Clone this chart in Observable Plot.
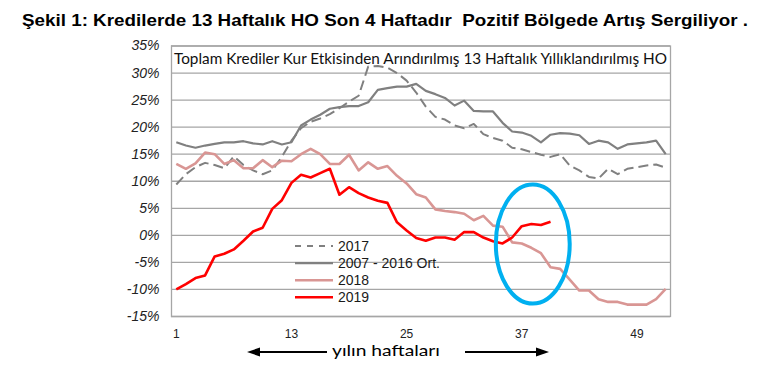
<!DOCTYPE html>
<html><head><meta charset="utf-8">
<script src="https://cdn.jsdelivr.net/npm/d3@7"></script>
<script src="https://cdn.jsdelivr.net/npm/@observablehq/plot@0.6"></script>
<style>
html,body{margin:0;padding:0;background:#fff;}
#wrap{position:relative;width:768px;height:377px;overflow:hidden;font-family:"Liberation Sans",Arial,sans-serif;}
#title{position:absolute;left:0;top:0;}
#chart{position:absolute;left:0;top:38px;}
#caption{position:absolute;left:0;top:336px;}
text.pre{white-space:pre;}
</style></head><body>
<div id="wrap">
<svg id="title" width="768" height="38"><text class="pre" x="22" y="26" text-anchor="start" font-family="Liberation Sans, Arial, sans-serif" font-weight="bold" font-size="17" fill="#000" textLength="726" lengthAdjust="spacingAndGlyphs">Şekil 1: Kredilerde 13 Haftalık HO Son 4 Haftadır  Pozitif Bölgede Artış Sergiliyor .</text></svg>
<div id="chart"></div>
<svg id="caption" width="768" height="41">
  <line x1="256" y1="16" x2="327" y2="16" stroke="#000" stroke-width="2"/>
  <polygon points="247,16 260,11.5 260,20.5" fill="#000"/>
  <text x="332" y="20" text-anchor="start" font-family="Lato, 'Open Sans', sans-serif" font-size="15" fill="#000" textLength="108" lengthAdjust="spacingAndGlyphs">yılın haftaları</text>
  <line x1="465" y1="16" x2="537" y2="16" stroke="#000" stroke-width="2"/>
  <polygon points="549,16 536,11.5 536,20.5" fill="#000"/>
</svg>
</div>
<script>
// ---- data ----
const weeks = [1,2,3,4,5,6,7,8,9,10,11,12,13,14,15,16,17,18,19,20,21,22,23,24,25,26,27,28,29,30,31,32,33,34,35,36,37,38,39,40,41,42,43,44,45,46,47,48,49,50,51,52];
const seriesNames = ["2017", "2007 - 2016 Ort.", "2018", "2019"];
const y2017 = [9.4,11.3,12.6,13.4,13.0,12.4,14.6,13.0,12.0,11.3,12.0,14.5,17.5,19.8,21.0,21.6,22.4,23.5,24.7,25.8,31.2,31.3,31.0,30.0,28.6,26.4,23.8,21.9,21.4,20.3,19.8,20.6,18.7,18.0,17.5,16.2,15.9,15.4,14.9,14.5,15.0,12.9,12.0,10.8,10.5,12.3,11.3,12.3,12.6,12.9,13.1,12.5];
const avg0716 = [17.2,16.6,16.2,16.6,16.9,17.2,17.2,17.4,17.0,16.8,17.4,16.8,17.2,20.3,21.4,22.3,23.4,23.7,23.9,23.9,24.6,26.9,27.2,27.5,27.5,28.0,26.7,26.1,25.4,24.0,24.9,23.0,22.9,22.9,20.8,19.2,19.0,18.4,17.2,18.6,18.9,18.8,18.5,16.9,17.5,17.2,16.0,16.8,17.0,17.2,17.5,15.0];
const y2018 = [13.2,12.3,13.3,15.3,15.0,13.2,13.9,12.4,12.4,13.9,12.6,13.8,13.7,15.0,16.0,15.0,13.2,13.2,14.9,12.0,13.5,12.3,12.8,11.0,9.6,7.6,7.0,4.8,4.5,4.3,4.0,2.8,3.6,1.8,1.6,-1.3,-1.5,-2.3,-3.3,-5.9,-6.2,-8.2,-10.2,-10.2,-11.8,-12.3,-12.3,-12.8,-12.8,-12.8,-11.8,-9.9];
const y2019 = [-10.0,-9.0,-7.9,-7.4,-3.9,-3.4,-2.6,-1.0,0.7,1.4,4.9,6.5,9.7,11.2,10.7,11.5,12.3,7.5,8.9,7.8,7.0,6.4,6.0,2.4,0.9,-0.5,-1.0,-0.4,-0.4,-0.8,0.6,0.6,-0.4,-1.1,-1.5,-0.4,1.7,2.1,1.9,2.5];
const xTicks = [1,13,25,37,49];
const yTicks = [-15,-10,-5,0,5,10,15,20,25,30,35];
const chartTitle = "Toplam Krediler Kur Etkisinden Arındırılmış 13 Haftalık Yıllıklandırılmış HO";
// highlighted area (week / % units)
const highlight = {week: 38.2, value: -1.7, halfWeeks: 3.85, halfValue: 11.0};

// ---- styles ----
const styles = {
  "2017": {stroke: "#808080", strokeWidth: 2, dash: "10,5", legendDash: "6,6"},
  "2007 - 2016 Ort.": {stroke: "#808080", strokeWidth: 2.2, dash: null},
  "2018": {stroke: "#d99694", strokeWidth: 2.6, dash: null},
  "2019": {stroke: "#ff0000", strokeWidth: 2.6, dash: null}
};
const valuesBy = {"2017": y2017, "2007 - 2016 Ort.": avg0716, "2018": y2018, "2019": y2019};
const rows = s => valuesBy[s].map((v, i) => ({week: weeks[i], value: v, series: s}));

const lineMarks = seriesNames.map(s => Plot.line(rows(s), {
  x: "week", y: "value",
  stroke: styles[s].stroke, strokeWidth: styles[s].strokeWidth,
  strokeDasharray: styles[s].dash || undefined,
  strokeLinejoin: "round", strokeLinecap: "butt"
}));

const plot = Plot.plot({
  width: 768, height: 305,
  marginLeft: 171, marginRight: 98, marginTop: 7.5, marginBottom: 27,
  style: {fontFamily: "Liberation Sans, Arial, sans-serif", background: "transparent", overflow: "visible"},
  x: {domain: [0.5, 52.5]},
  y: {domain: [-15, 35]},
  marks: [
    Plot.ruleY(yTicks, {stroke: "#a6a6a6", strokeWidth: 1.3}),
    Plot.frame({stroke: "#a6a6a6", strokeWidth: 1.3}),
    Plot.axisY({ticks: yTicks, tickFormat: d => d + "%", tickSize: 0, tickPadding: 12, fontSize: 14, fill: "#222", label: null}),
    Plot.axisX({ticks: xTicks, tickFormat: d => String(d), tickSize: 0, tickPadding: 13, fontSize: 12, fill: "#222", label: null}),
    ...lineMarks
  ]
});
document.getElementById("chart").appendChild(plot);

const svg = d3.select(plot);
svg.selectAll('g[aria-label="y-axis tick label"] text').attr("font-style", "italic");

const xs = plot.scale("x"), ys = plot.scale("y");
const X = v => xs.apply(v), Y = v => ys.apply(v);

// inner chart title
svg.append("text")
  .attr("x", X(0.5) + 3).attr("y", 26)
  .attr("text-anchor", "start")
  .attr("font-family", "Lato, 'Open Sans', sans-serif").attr("font-size", 15)
  .attr("fill", "#111")
  .attr("textLength", 493).attr("lengthAdjust", "spacingAndGlyphs")
  .text(chartTitle);

// highlight ellipse
svg.append("ellipse")
  .attr("cx", X(highlight.week)).attr("cy", Y(highlight.value))
  .attr("rx", X(highlight.week + highlight.halfWeeks) - X(highlight.week))
  .attr("ry", Y(highlight.value - highlight.halfValue) - Y(highlight.value))
  .attr("fill", "none").attr("stroke", "#00b0f0").attr("stroke-width", 4);

// legend
const lg = svg.append("g").attr("text-anchor", "start");
seriesNames.forEach((s, i) => {
  const yy = 208 + i * 17.1;
  lg.append("line").attr("x1", 295).attr("x2", 333).attr("y1", yy).attr("y2", yy)
    .attr("stroke", styles[s].stroke).attr("stroke-width", styles[s].strokeWidth)
    .attr("stroke-dasharray", styles[s].legendDash || null);
  lg.append("text").attr("x", 338).attr("y", yy).attr("dy", "0.35em")
    .attr("text-anchor", "start")
    .attr("font-size", 14).attr("fill", "#1a1a1a").text(s);
});
</script>
</body></html>
